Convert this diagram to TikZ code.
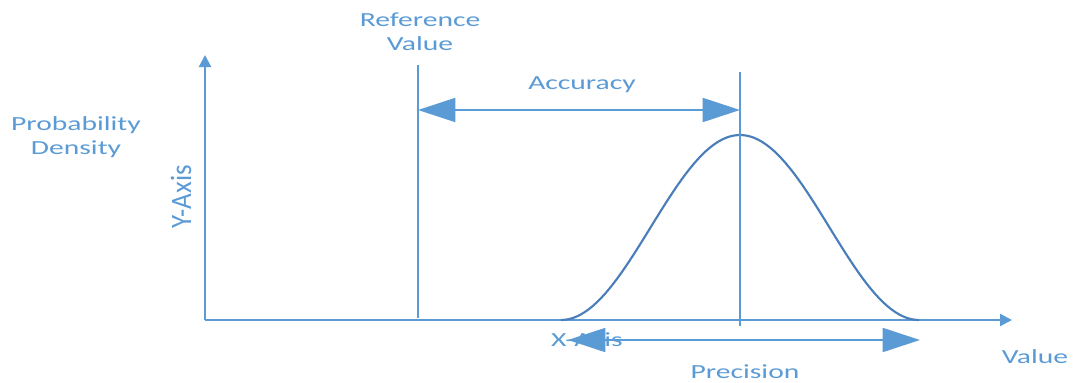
\documentclass[tikz,border=0pt]{standalone}
\usepackage{fontspec}
\setmainfont{Carlito}
\usetikzlibrary{arrows.meta}
\definecolor{bleuclair}{HTML}{5B9BD5}
\definecolor{bleufonce}{HTML}{4A7EBB}
\begin{document}
\begin{tikzpicture}[x=0.75pt,y=-0.75pt]
	% Styles
	\tikzstyle{axe}=[bleuclair,line width=1.6pt,-{Triangle[length=9pt,width=9pt]}]
	\tikzstyle{trait}=[bleuclair,line width=1.6pt]
	\tikzstyle{fleche}=[bleuclair,line width=1.4pt,{Triangle[length=28pt,width=18pt]}-{Triangle[length=28pt,width=18pt]}]
	\tikzstyle{courbe}=[bleufonce,line width=1.6pt]
	\tikzstyle{texte}=[bleuclair,font=\fontsize{15}{18}\selectfont,align=center,xscale=1.48,inner sep=0pt]
	% Dimensions
	\def\Base{320}
	\def\Moyenne{740}
	\def\DemiLargeur{179}
	\def\Hauteur{185}
	\useasboundingbox (0,0) rectangle (1073,382);
	% Points
	\coordinate (O) at (205,\Base);
	\coordinate (Yhaut) at (205,55);
	\coordinate (Xfin) at (1012,\Base);
	\coordinate (Rhaut) at (418,65);
	\coordinate (Rbas) at (418,318);
	\coordinate (Mhaut) at (\Moyenne,72);
	\coordinate (Mbas) at (\Moyenne,326);
	\coordinate (Ag) at (418,110);
	\coordinate (Ad) at (\Moyenne,110);
	\coordinate (Pg) at (568,340);
	\coordinate (Pd) at (920,340);
	% Textes
	\node[texte] (proba) at (76,137) {Probability\\Density};
	\node[texte] (ref) at (420,32) {Reference\\Value};
	\node[texte] (acc) at (582,85) {Accuracy};
	\node[texte,xscale=1,rotate=90,xscale=1.35] (yaxe) at (181,197) {Y-Axis};
	\node[texte] (xaxe) at (587,340) {X-Axis};
	\node[texte] (prec) at (745,372) {Precision};
	\node[texte] (val) at (1035,357) {Value};
	% Axes
	\draw[axe] (O)--(Yhaut);
	\draw[axe] (O)--(Xfin);
	% Courbe
	\draw[courbe] plot[domain=-1:1,samples=90]
		({\Moyenne+\DemiLargeur*\x},{\Base-\Hauteur*(1+cos(180*\x))/2});
	% Traits verticaux
	\draw[trait] (Rhaut)--(Rbas);
	\draw[trait] (Mhaut)--(Mbas);
	% Fleches
	\draw[fleche] (Ag)--(Ad);
	\draw[fleche] (Pg)--(Pd);
\end{tikzpicture}
\end{document}
